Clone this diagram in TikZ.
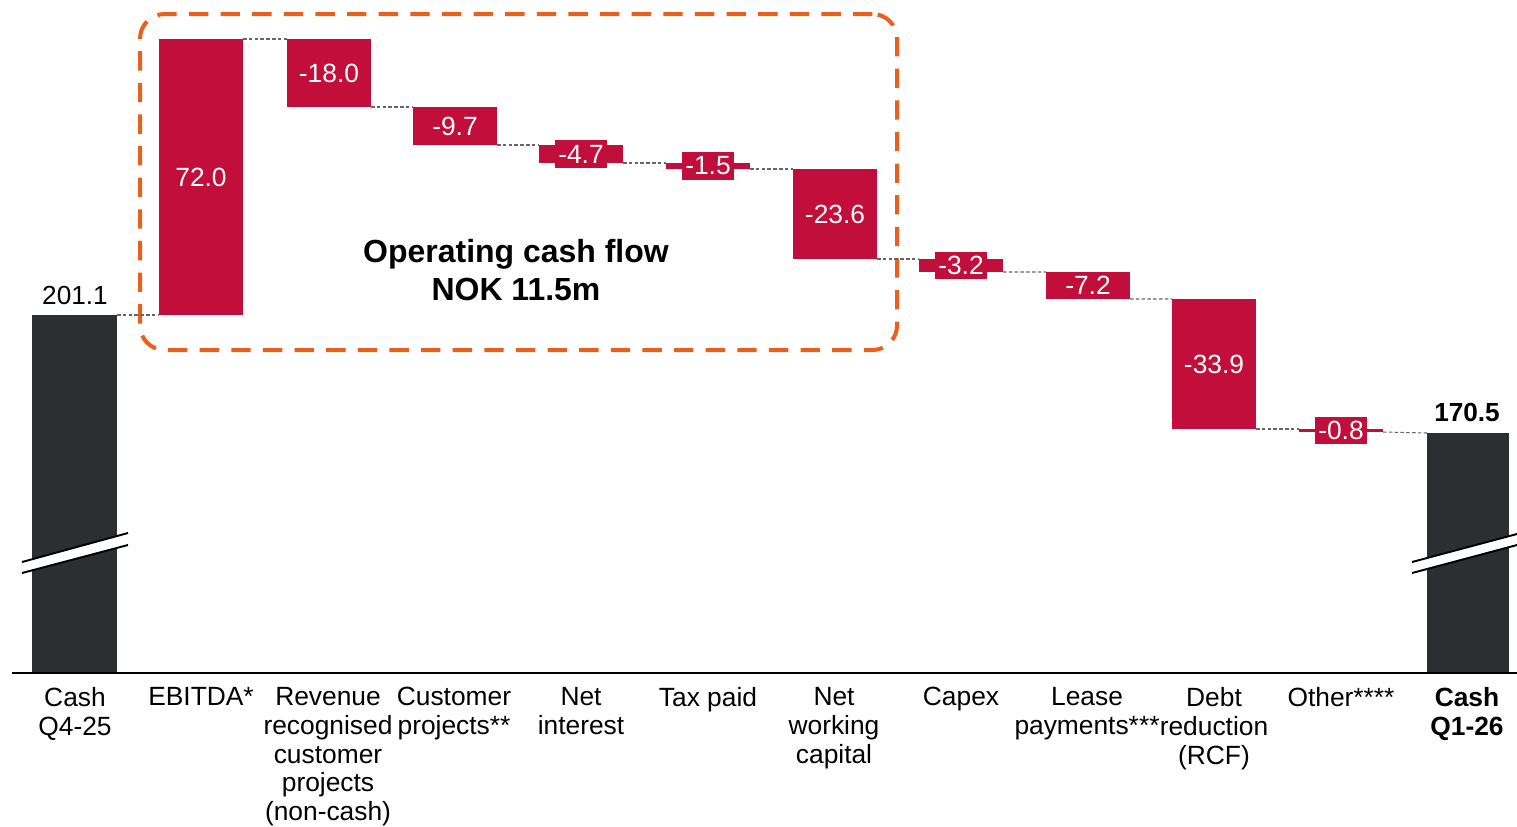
\documentclass[tikz,border=0pt]{standalone}
\usepackage{fontspec}
\setmainfont{Liberation Sans}
\definecolor{wred}{HTML}{C20E3A}
\definecolor{wdark}{HTML}{2B2F32}
\definecolor{worange}{HTML}{E8601C}
\definecolor{wgrey}{HTML}{666666}
\newcommand\wbar[5]{\node[#5, anchor=north west, minimum height={(#4-#3)*0.02cm}] (#1) at (#2,#3) {};}
\tikzset{
  redbar/.style={fill=wred, inner sep=0pt, outer sep=0pt, minimum width=84*0.02cm},
  darkbar/.style={fill=wdark, inner sep=0pt, outer sep=0pt},
  conn/.style={draw=wgrey, line width=0.6pt, dash pattern=on 2pt off 1.3pt},
  val/.style={fill=wred, text=white, inner xsep=1.8pt, inner ysep=0pt, minimum height=15.9pt, font=\fontsize{15}{17}\selectfont},
  cat/.style={anchor=north, align=center, inner sep=0pt, font=\fontsize{15}{16.4}\selectfont},
  total/.style={inner sep=0pt, font=\fontsize{14.9}{17}\selectfont},
  opbox/.style={draw=worange, line width=2.3pt, dash pattern=on 11pt off 7pt, rounded corners=14pt, inner sep=0pt},
  brk/.style={line width=1.1pt, black},
}
\begin{document}
\begin{tikzpicture}[x=0.02cm,y=-0.02cm]
\useasboundingbox (0,0) rectangle (1517,826);
% operating cash flow box
\node[opbox, anchor=north west, minimum width=757*0.02cm, minimum height=336*0.02cm] (box) at (138,12) {};
\node[align=center, inner sep=0pt, font=\bfseries\fontsize{18.2}{21.5}\selectfont] (boxlbl) at (516,270) {Operating cash flow\\NOK 11.5m};
% bars
\wbar{cashA}{32}{315}{673}{darkbar, minimum width=85*0.02cm}
\wbar{ebitda}{159}{39}{315}{redbar}
\wbar{rev}{287}{39}{107}{redbar}
\wbar{cust}{413}{107}{145}{redbar}
\wbar{int}{539}{145}{163}{redbar}
\wbar{tax}{666}{163}{169}{redbar}
\wbar{nwc}{793}{169}{259}{redbar}
\wbar{capex}{919}{259}{272}{redbar}
\wbar{lease}{1046}{272}{299}{redbar}
\wbar{debt}{1172}{299}{429}{redbar}
\wbar{other}{1299}{429}{432}{redbar}
\wbar{cashB}{1427}{433}{673}{darkbar, minimum width=82*0.02cm}
% connectors
\draw[conn] (cashA.north east) -- (ebitda.south west);
\draw[conn] (ebitda.north east) -- (rev.north west);
\draw[conn] (rev.south east) -- (cust.north west);
\draw[conn] (cust.south east) -- (int.north west);
\draw[conn] (int.south east) -- (tax.north west);
\draw[conn] (tax.south east) -- (nwc.north west);
\draw[conn] (nwc.south east) -- (capex.north west);
\draw[conn] (capex.south east) -- (lease.north west);
\draw[conn] (lease.south east) -- (debt.north west);
\draw[conn] (debt.south east) -- (other.north west);
\draw[conn] (other.south east) -- (cashB.north west);
% value labels
\node[val] (vebitda) at (ebitda.center) {72.0};
\node[val] (vrev) at (rev.center) {-18.0};
\node[val] (vcust) at (cust.center) {-9.7};
\node[val] (vint) at (int.center) {-4.7};
\node[val] (vtax) at (tax.center) {-1.5};
\node[val] (vnwc) at (nwc.center) {-23.6};
\node[val] (vcapex) at (capex.center) {-3.2};
\node[val] (vlease) at (lease.center) {-7.2};
\node[val] (vdebt) at (debt.center) {-33.9};
\node[val] (vother) at (other.center) {-0.8};
\node[total] (tA) at (75,295) {201.1};
\node[total, font=\bfseries\fontsize{14.9}{17}\selectfont] (tB) at (1467,412) {170.5};
% axis
\coordinate (axL) at (12,673);
\coordinate (axR) at (1517,673);
\draw[line width=1.1pt] (axL) -- (axR);
% break marks
\fill[white] (22,562) -- (128,533) -- (128,545) -- (22,573) -- cycle;
\draw[brk] (22,562) -- (128,533);
\draw[brk] (22,573) -- (128,545);
\fill[white] (1412,562) -- (1517,534) -- (1517,545) -- (1412,573) -- cycle;
\draw[brk] (1412,562) -- (1517,534);
\draw[brk] (1412,573) -- (1517,545);
% categories
\node[cat] (c1) at (75,687) {Cash\\Q4-25};
\node[cat] (c2) at (201,687) {EBITDA*};
\node[cat] (c3) at (328,687) {Revenue\\recognised\\customer\\projects\\(non-cash)};
\node[cat] (c4) at (454,687) {Customer\\projects**};
\node[cat] (c5) at (581,687) {Net\\interest};
\node[cat] (c6) at (708,687) {Tax paid};
\node[cat] (c7) at (834,687) {Net\\working\\capital};
\node[cat] (c8) at (961,687) {Capex};
\node[cat] (c9) at (1087,687) {Lease\\payments***};
\node[cat] (c10) at (1214,687) {Debt\\reduction\\(RCF)};
\node[cat] (c11) at (1341,687) {Other****};
\node[cat, font=\bfseries\fontsize{15}{16.4}\selectfont] (c12) at (1467,687) {Cash\\Q1-26};
\end{tikzpicture}
\end{document}
